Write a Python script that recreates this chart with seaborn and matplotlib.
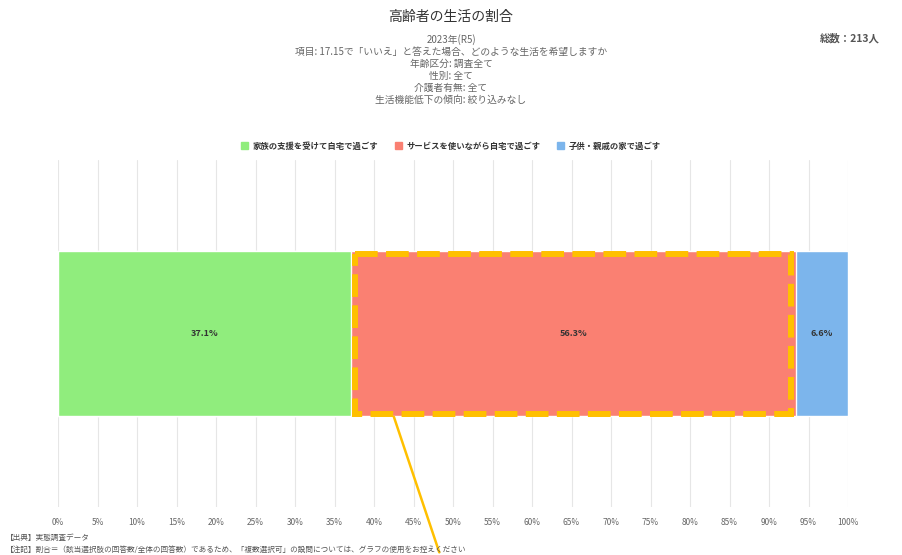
import numpy as np
import pandas as pd
import matplotlib.pyplot as plt
import matplotlib.patches as mpatches
import seaborn as sns

# ------------------- Data -------------------
categories = ['家族の支援を受けて自宅で過ごす', 'サービスを使いながら自宅で過ごす', '子供・親戚の家で過ごす']
shares = [37.1, 56.3, 6.6]
colors = ['#90ed7d', '#fa8072', '#7cb5ec']
ticks = list(range(0, 101, 5))
total_n = 213
highlight_idx = 1

title = '高齢者の生活の割合'
subtitle = ['2023年(R5)',
            '項目: 17.15で「いいえ」と答えた場合、どのような生活を希望しますか',
            '年齢区分: 調査全て',
            '性別: 全て',
            '介護者有無: 全て',
            '生活機能低下の傾向: 絞り込みなし']
footer = ['【出典】実態調査データ',
          '【注記】割合＝（該当選択肢の回答数/全体の回答数）であるため、「複数選択可」の設問については、グラフの使用をお控えください']

# ------------------- Style -------------------
sns.set_theme(style='white')
plt.rcParams['font.family'] = ['Noto Sans CJK JP', 'DejaVu Sans']

fig = plt.figure(figsize=(9.02, 5.55), dpi=100)
ax = fig.add_axes([0.0643, 0.0865, 0.8759, 0.6253])

# stacked bar: draw cumulative totals, widest first
cum = np.cumsum(shares)
df = pd.DataFrame({'row': ['all'] * len(shares), 'cum': cum, 'cat': categories})
for i in reversed(range(len(shares))):
    sns.barplot(data=df.iloc[[i]], x='cum', y='row', color=colors[i], orient='h',
                width=0.475, edgecolor='white', linewidth=1, saturation=1, ax=ax)

starts = cum - np.array(shares)
for s, v in zip(starts, shares):
    ax.text(s + v / 2, 0, f'{v}%', ha='center', va='center', fontsize=6.5,
            fontweight='bold', color='#333333')

# highlight box around the selected segment
bar_h = 0.475
x0 = starts[highlight_idx]
rect = mpatches.Rectangle((x0 + 0.45, -bar_h / 2 + 0.009), shares[highlight_idx] - 1.05, bar_h - 0.015,
                          fill=False, edgecolor='#ffc000', linewidth=4.3,
                          linestyle=(0, (3.8, 1.4)), zorder=5)
ax.add_patch(rect)
ax.annotate('', xy=(x0 + 5.3, bar_h / 2 - 0.005), xycoords='data',
            xytext=(0.488, 0.0), textcoords='figure fraction',
            arrowprops=dict(arrowstyle='-', color='#ffc000', lw=1.8), zorder=6,
            annotation_clip=False)

ax.set_xlim(0, 100)
ax.set_ylim(0.5, -0.5)
ax.set_xticks(ticks)
ax.set_xticklabels([f'{t}%' for t in ticks], fontsize=6, color='#666666')
ax.set_yticks([])
ax.set_xlabel('')
ax.set_ylabel('')
ax.tick_params(axis='x', length=0, pad=8)
ax.grid(axis='x', color='#e6e6e6', linewidth=0.8)
ax.set_axisbelow(True)
for sp in ax.spines.values():
    sp.set_visible(False)

# ------------------- Titles -------------------
fig.text(0.5, 0.969, title, ha='center', va='center', fontsize=10, color='#333333')
for k, line in enumerate(subtitle):
    fig.text(0.5, 0.928 - k * 0.0217, line, ha='center', va='center', fontsize=7, color='#666666')
fig.text(0.975, 0.931, f'総数：{total_n}人', ha='right', va='center', fontsize=7.5,
         fontweight='bold', color='#555555')

# ------------------- Legend -------------------
handles = [mpatches.Patch(color=c, label=l) for c, l in zip(colors, categories)]
leg = fig.legend(handles=handles, loc='center', bbox_to_anchor=(0.5, 0.737), ncol=3,
                 frameon=False, fontsize=6, handlelength=0.8, handleheight=0.8,
                 handletextpad=0.6, columnspacing=2.0)
for t in leg.get_texts():
    t.set_color('#333333')
    t.set_fontweight('bold')

# ------------------- Footer -------------------
fig.text(0.006, 0.031, footer[0], ha='left', va='center', fontsize=5.5, color='#555555')
fig.text(0.006, 0.009, footer[1], ha='left', va='center', fontsize=5.5, color='#555555')

plt.savefig('out.png', dpi=100)
